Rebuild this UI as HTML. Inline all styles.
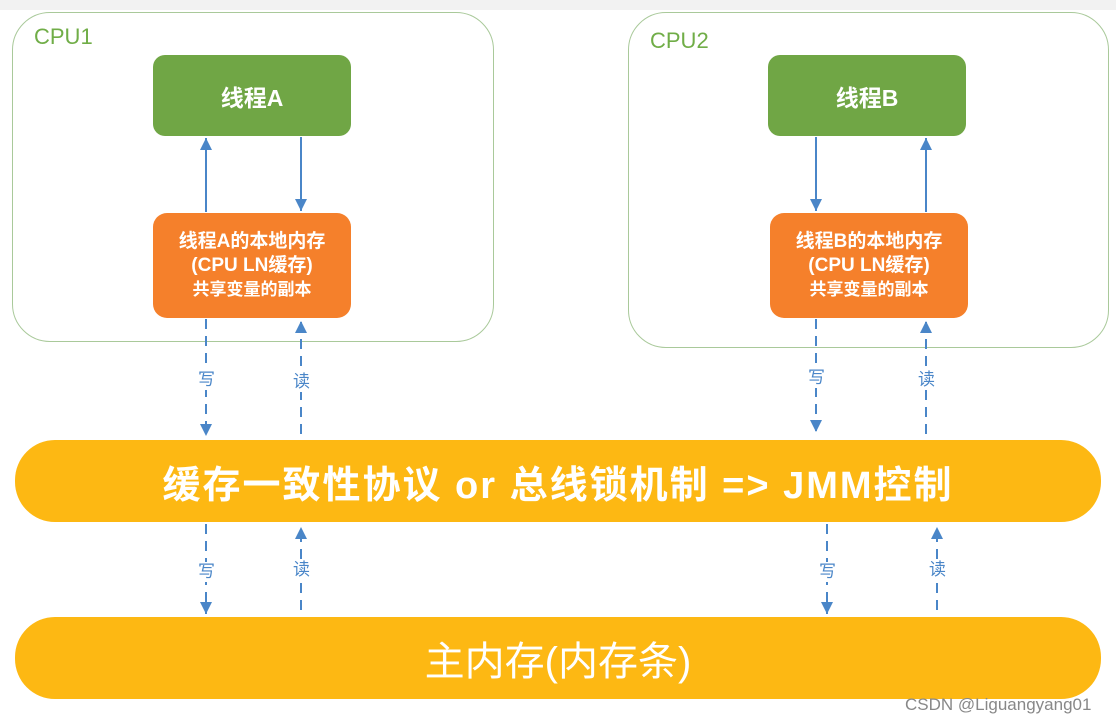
<!DOCTYPE html>
<html><head><meta charset="utf-8"><style>
body{margin:0;width:1116px;height:725px;background:#fff;position:relative;overflow:hidden;font-family:"Liberation Sans","Noto Sans CJK SC",sans-serif}
.abs{position:absolute}
.cpu{border:1.5px solid #a9c99a;border-radius:38px;box-sizing:border-box}
.cpul{color:#70ad47;font-size:22px}
.g{background:#70a645;border-radius:12px;color:#fff;font-weight:bold;font-size:23px;display:flex;align-items:center;justify-content:center}
.o{background:#f5802b;border-radius:14px;color:#fff;font-weight:bold;font-size:19px;display:flex;flex-direction:column;align-items:center;justify-content:center;line-height:24px}
.o div:last-child{font-size:17px}
.bar{background:#fdb813;border-radius:40px;color:#fff;font-weight:bold;display:flex;align-items:center;justify-content:center}
.lbl{color:#4a86c8;font-size:17px;background:#fff;line-height:20px;width:17px;text-align:center}
</style></head><body>
<div class="abs" style="left:0;top:0;width:1116px;height:10px;background:#f2f2f2"></div>
<div class="abs cpu" style="left:12px;top:12px;width:482px;height:330px"></div>
<div class="abs cpul" style="left:34px;top:24px">CPU1</div>
<div class="abs cpu" style="left:628px;top:12px;width:481px;height:336px"></div>
<div class="abs cpul" style="left:650px;top:28px">CPU2</div>
<div class="abs g" style="left:153px;top:55px;width:198px;height:81px">线程A</div>
<div class="abs g" style="left:768px;top:55px;width:198px;height:81px">线程B</div>
<div class="abs o" style="left:153px;top:213px;width:198px;height:105px"><div>线程A的本地内存</div><div>(CPU LN缓存)</div><div>共享变量的副本</div></div>
<div class="abs o" style="left:770px;top:213px;width:198px;height:105px"><div>线程B的本地内存</div><div>(CPU LN缓存)</div><div>共享变量的副本</div></div>
<div class="abs bar" style="left:15px;top:440px;width:1086px;height:82px;font-size:38px;letter-spacing:2px">缓存一致性协议 or 总线锁机制 =&gt; JMM控制</div>
<div class="abs bar" style="left:15px;top:617px;width:1086px;height:82px;font-size:40px;font-weight:normal">主内存(内存条)</div>
<svg class="abs" style="left:0;top:0" width="1116" height="725">
<defs>
<marker id="d" viewBox="0 0 10 10" markerWidth="12" markerHeight="14" refX="10" refY="5" orient="auto" markerUnits="userSpaceOnUse"><path d="M0,0 L10,5 L0,10z" fill="#4a86c8"/></marker></defs>
<g stroke="#4a86c8" stroke-width="2" fill="none">
<line x1="206" y1="212" x2="206" y2="138" marker-end="url(#d)"/>
<line x1="301" y1="137" x2="301" y2="211" marker-end="url(#d)"/>
<line x1="816" y1="137" x2="816" y2="211" marker-end="url(#d)"/>
<line x1="926" y1="212" x2="926" y2="138" marker-end="url(#d)"/>
<g stroke-dasharray="10,7">
<line x1="206" y1="319" x2="206" y2="436" marker-end="url(#d)"/>
<line x1="301" y1="434" x2="301" y2="321" marker-end="url(#d)"/>
<line x1="816" y1="319" x2="816" y2="432" marker-end="url(#d)"/>
<line x1="926" y1="434" x2="926" y2="321" marker-end="url(#d)"/>
<line x1="206" y1="524" x2="206" y2="614" marker-end="url(#d)"/>
<line x1="301" y1="610" x2="301" y2="527" marker-end="url(#d)"/>
<line x1="827" y1="524" x2="827" y2="614" marker-end="url(#d)"/>
<line x1="937" y1="610" x2="937" y2="527" marker-end="url(#d)"/>
</g></g></svg>
<div class="abs lbl" style="left:198px;top:370px">写</div>
<div class="abs lbl" style="left:293px;top:372px">读</div>
<div class="abs lbl" style="left:808px;top:368px">写</div>
<div class="abs lbl" style="left:918px;top:370px">读</div>
<div class="abs lbl" style="left:198px;top:562px">写</div>
<div class="abs lbl" style="left:293px;top:560px">读</div>
<div class="abs lbl" style="left:819px;top:562px">写</div>
<div class="abs lbl" style="left:929px;top:560px">读</div>
<div class="abs" style="left:905px;top:695px;font-size:17px;color:#888">CSDN @Liguangyang01</div>
</body></html>
